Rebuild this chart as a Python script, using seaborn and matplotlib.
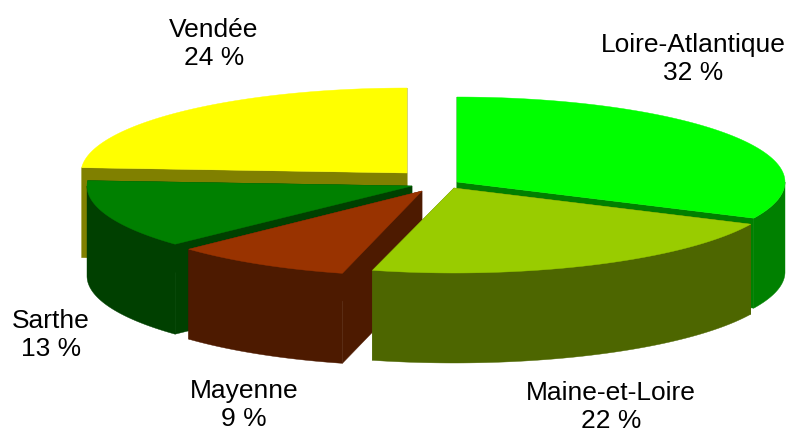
import numpy as np
import matplotlib
matplotlib.use('Agg')
import matplotlib.pyplot as plt
import seaborn as sns

# parts par departement
departements = ['Loire-Atlantique', 'Maine-et-Loire', 'Mayenne', 'Sarthe', 'Vendée']
parts = [32, 22, 9, 13, 24]

couleurs = sns.color_palette(['#00ff00', '#99cc00', '#993300', '#008000', '#ffff00'])
cotes = sns.color_palette(['#008000', '#4d6600', '#4d1a00', '#004000', '#808000'])

# sommet et rayon de chaque part (pie eclate), position des etiquettes, en pixels
sommets = [(457, 182), (454, 188), (422, 191), (412, 186), (407, 173)]
rayons = [328, 328, 320, 325, 326]
etiquettes = [(693, 59), (611, 407), (244, 405), (51, 335), (214, 44)]
ordre = [4, 0, 3, 2, 1]     # du fond vers l'avant

ry, h = 85, 90

sns.set_theme(style='white')
plt.rcParams['font.family'] = ['Liberation Sans', 'DejaVu Sans']

fig = plt.figure(figsize=(7.87, 4.29), dpi=100)
ax = fig.add_axes([0, 0, 1, 1])
ax.set_xlim(0, 787)
ax.set_ylim(429, 0)
ax.axis('off')


def point(sommet, rx, a):
    return sommet[0] + rx * np.sin(a), sommet[1] - ry * np.cos(a)


bornes = np.radians(np.cumsum([0] + parts) * 3.6)

for i in ordre:
    s = sommets[i]
    rx = rayons[i]
    a0, a1 = bornes[i], bornes[i + 1]

    # cotes interieurs
    for a in (a0, a1):
        x, y = point(s, rx, a)
        ax.fill([s[0], x, x, s[0]], [s[1], y, y + h, s[1] + h],
                color=cotes[i], lw=0.3)

    # bord exterieur, seulement la partie tournee vers l'avant
    b0, b1 = max(a0, np.pi / 2), min(a1, 3 * np.pi / 2)
    if b1 > b0:
        t = np.linspace(b0, b1, 80)
        x, y = point(s, rx, t)
        ax.fill(np.r_[x, x[::-1]], np.r_[y, y[::-1] + h], color=cotes[i], lw=0.3)

    # dessus
    t = np.linspace(a0, a1, 120)
    x, y = point(s, rx, t)
    ax.fill(np.r_[s[0], x], np.r_[s[1], y], color=couleurs[i], lw=0.3)

for nom, part, (x, y) in zip(departements, parts, etiquettes):
    ax.text(x, y, f'{nom}\n{part} %', ha='center', va='center',
            fontsize=19, color='black', linespacing=1.2)

plt.savefig('out.png', dpi=100, facecolor='white')
